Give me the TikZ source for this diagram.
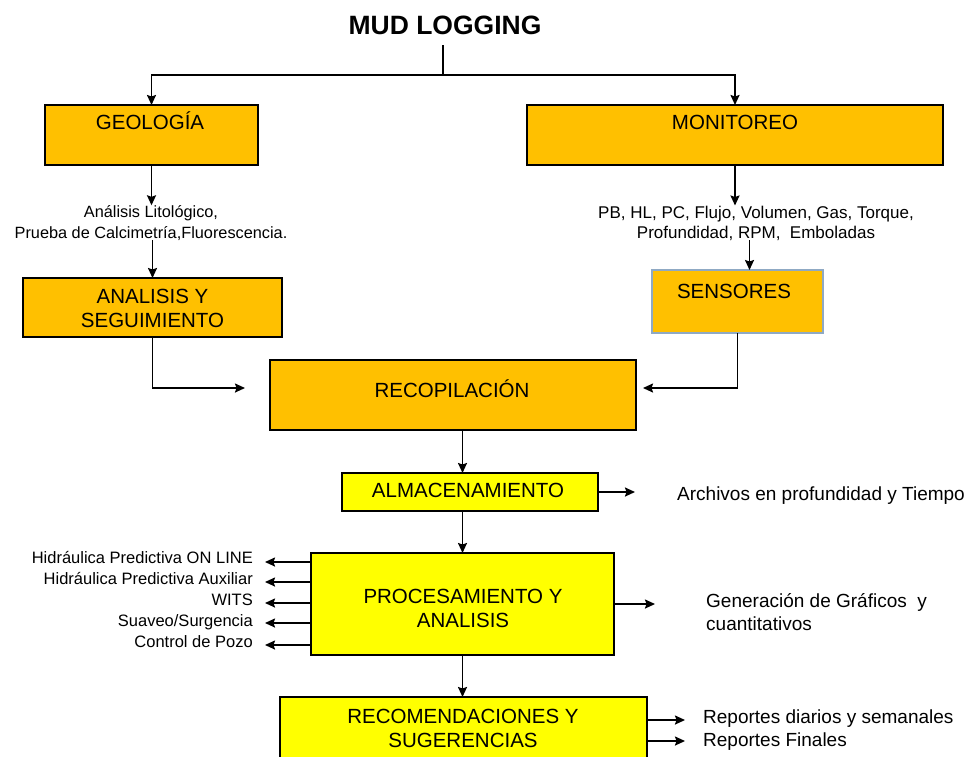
\documentclass[tikz,border=0pt]{standalone}
\usepackage{fontspec}
\setmainfont{Liberation Sans}
\usetikzlibrary{arrows.meta,calc}
\definecolor{orng}{HTML}{FFC000}
\definecolor{yel}{HTML}{FFFF00}
\definecolor{sensbd}{HTML}{8FA9C4}
\begin{document}
\begin{tikzpicture}[x=1pt,y=-1pt,
  box/.style={draw=black, line width=1.5pt, inner sep=0pt, outer sep=0pt, anchor=north west},
  obox/.style={box, fill=orng},
  ybox/.style={box, fill=yel},
  btext/.style={font=\fontsize{20.5}{23.5}\selectfont, align=center, inner sep=0pt, anchor=base},
  stext/.style={font=\fontsize{16.3}{20.5}\selectfont, inner sep=0pt, anchor=base},
  rtext/.style={font=\fontsize{19}{23}\selectfont, inner sep=0pt, anchor=base west, align=left},
  conn/.style={line width=1.8pt},
  arr/.style={conn, -{Stealth[length=10pt,width=9pt,inset=1.5pt]}},
]
\useasboundingbox (0,0) rectangle (968,756);
\clip (0,0) rectangle (968,756);

% title
\node[btext, font=\bfseries\fontsize{26.5}{30}\selectfont] (title) at (445,34) {MUD LOGGING};

% top boxes
\node[obox, minimum width=213pt, minimum height=60pt] (geo) at (45,105) {};
\node[btext] (geot) at (150,129) {GEOLOGÍA};
\node[obox, minimum width=416pt, minimum height=60pt] (mon) at (527,105) {};
\node[btext] (mont) at (735,129) {MONITOREO};

\node[stext, align=center] (geoinfo) at (151,238) {Análisis Litológico,\\Prueba de Calcimetría,Fluorescencia.};
\node[stext, align=center, font=\fontsize{17}{20}\selectfont] (moninfo) at (756,238) {PB, HL, PC, Flujo, Volumen, Gas, Torque,\\Profundidad, RPM,~ Emboladas};

\node[obox, minimum width=259pt, minimum height=59pt] (ana) at (23,278) {};
\node[btext] (anat) at (152.5,327) {ANALISIS Y\\SEGUIMIENTO};
\node[obox, draw=sensbd, line width=2pt, minimum width=171pt, minimum height=63pt] (sens) at (652,270) {};
\node[btext] (senst) at (734,298) {SENSORES};

\node[obox, minimum width=366pt, minimum height=70pt] (rec) at (270,360) {};
\node[btext] (rect) at (452,397) {RECOPILACIÓN};

\node[ybox, minimum width=256pt, minimum height=38pt] (alm) at (342,473) {};
\node[btext] (almt) at (468,497) {ALMACENAMIENTO};
\node[rtext] (arch) at (677,500) {Archivos en profundidad y Tiempo};

\node[ybox, minimum width=303pt, minimum height=102pt] (proc) at (311,553) {};
\node[btext] (proct) at (463,627) {PROCESAMIENTO Y\\ANALISIS};
\node[stext, anchor=base east, align=right, font=\fontsize{16.5}{21}\selectfont] (hyd) at (253,647) {Hidráulica Predictiva ON LINE\\Hidráulica Predictiva Auxiliar\\WITS\\Suaveo/Surgencia\\Control de Pozo};
\node[rtext] (graf) at (706,630) {Generación de Gráficos~ y\\cuantitativos};

\node[ybox, minimum width=367pt, minimum height=75pt] (reco) at (280,697) {};
\node[btext] (recot) at (463,747) {RECOMENDACIONES Y\\SUGERENCIAS};
\node[rtext] (rep) at (703,746) {Reportes diarios y semanales\\Reportes Finales};

% connectors
\coordinate (split) at (443,75);
\draw[conn] ($(title.south)+(-2,11)$) -- (split);
\draw[arr] (split) -| (geo.north);
\draw[arr] (split) -| (mon.north);
\draw[arr] (geo.south) -- (geo.south |- geoinfo.north);
\draw[arr] (geoinfo.south -| ana.north) -- (ana.north);
\draw[arr] (mon.south) -- (mon.south |- moninfo.north);
\coordinate (sensin) at ($(sens.north)+(12,0)$);
\draw[arr] (moninfo.south -| sensin) -- (sensin);
\coordinate (recinL) at ($(rec.west)+(-25,-7)$);
\draw[arr] (ana.south) |- (recinL);
\coordinate (recinR) at ($(rec.east)+(7,-7)$);
\draw[arr] (sens.south) |- (recinR);
\draw[arr] (rec.south -| proc.north) -- (alm.north -| proc.north);
\coordinate (almout) at ($(alm.east)+(37,0)$);
\draw[arr] (alm.east) -- (almout);
\draw[arr] (alm.south -| proc.north) -- (proc.north);
\foreach \i/\yy in {1/562,2/582,3/603,4/623,5/645}{
  \coordinate (h\i) at (265,\yy);
  \draw[arr] (proc.west |- h\i) -- (h\i);
}
\coordinate (procout) at ($(proc.east)+(41,0)$);
\draw[arr] (proc.east) -- (procout);
\draw[arr] (proc.south) -- (reco.north -| proc.south);
\coordinate (r1) at (685,720);
\coordinate (r2) at (685,741);
\draw[arr] (reco.east |- r1) -- (r1);
\draw[arr] (reco.east |- r2) -- (r2);
\end{tikzpicture}
\end{document}
